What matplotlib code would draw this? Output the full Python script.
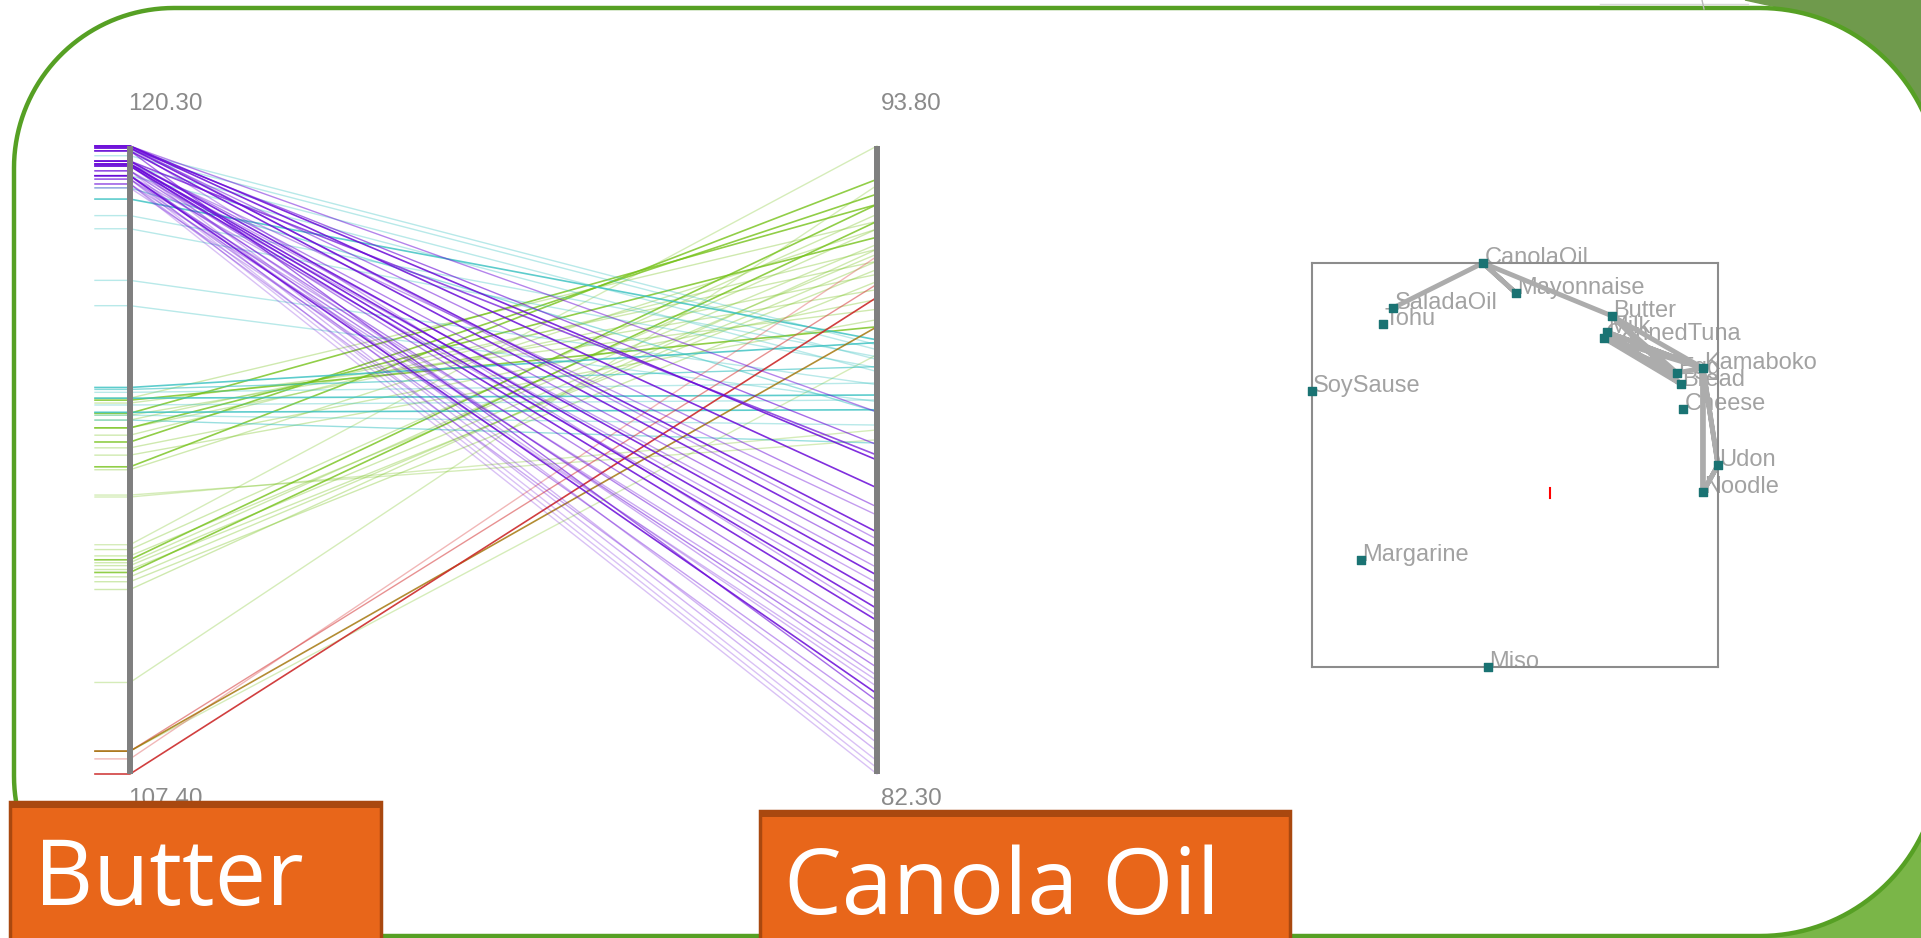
import matplotlib
matplotlib.use('Agg')
import matplotlib.pyplot as plt
from matplotlib.patches import Rectangle, Polygon
import numpy as np

# ---- data -------------------------------------------------------------
butter_range = (107.40, 120.30)
canola_range = (82.30, 93.80)

# purple lines (butter value, canola value, alpha)
purple_butter = [120.30, 120.30, 120.26, 120.26, 120.20, 119.99, 119.99, 119.93, 119.93, 119.89,
                 119.89, 119.79, 119.69, 119.69, 119.62, 119.52, 120.30, 120.26, 119.99, 119.93,
                 119.89, 119.79, 119.69, 119.62, 119.52, 119.44, 120.20, 119.99, 119.93, 119.79,
                 119.69, 119.62, 119.52, 120.30, 120.26, 119.89, 119.69]
purple_canola = [88.05, 87.54, 87.19, 86.73, 86.45, 86.27, 85.94, 85.63, 85.33, 85.11,
                 84.87, 84.56, 84.25, 83.77, 83.46, 83.04, 88.93, 88.33, 88.14, 87.04,
                 86.08, 85.80, 85.50, 84.70, 84.40, 84.01, 83.64, 83.27, 82.87, 82.72,
                 82.54, 82.41, 82.30, 86.60, 85.20, 84.10, 83.90]
purple_alpha = [0.85, 0.85, 0.5, 0.85, 0.85, 0.5, 0.85, 0.85, 0.85, 0.85,
                0.5, 0.5, 0.5, 0.85, 0.4, 0.35, 0.5, 0.6, 0.7, 0.4,
                0.4, 0.35, 0.35, 0.35, 0.35, 0.3, 0.6, 0.3, 0.3, 0.3,
                0.25, 0.25, 0.25, 0.4, 0.35, 0.35, 0.3]

cyan_butter = [119.44, 119.21, 118.87, 118.60, 117.54, 117.02, 120.20, 120.10, 119.89, 119.69,
               115.34, 115.30, 115.24, 115.12, 114.98, 114.83, 114.77, 114.67]
cyan_canola = [88.93, 90.25, 89.94, 89.74, 89.43, 89.12, 90.16, 90.07, 89.89, 89.67,
               90.20, 89.76, 89.46, 89.24, 89.15, 88.97, 88.69, 88.36]
cyan_alpha = [0.5, 0.8, 0.35, 0.35, 0.35, 0.35, 0.35, 0.35, 0.35, 0.35,
              0.8, 0.6, 0.35, 0.8, 0.35, 0.8, 0.35, 0.5]

green_butter = [115.12, 115.08, 115.02, 114.81, 114.77, 114.67, 114.51, 114.51, 114.36, 114.22,
                114.10, 113.95, 113.71, 113.65, 113.13, 113.09, 112.11, 112.01, 111.88, 111.80,
                111.74, 111.68, 111.60, 111.54, 111.45, 111.35, 111.19, 109.28, 107.87]
green_canola = [92.42, 90.49, 90.81, 92.73, 91.17, 91.69, 92.13, 91.45, 91.91, 92.92,
                90.99, 90.62, 93.19, 92.28, 88.42, 88.60, 93.80, 92.55, 92.00, 92.73,
                92.28, 91.82, 91.54, 92.42, 91.69, 91.32, 91.91, 93.08, 89.98]
green_alpha = [0.35, 0.8, 0.35, 0.8, 0.35, 0.35, 0.8, 0.35, 0.35, 0.8,
               0.35, 0.35, 0.8, 0.35, 0.3, 0.3, 0.3, 0.35, 0.35, 0.8,
               0.35, 0.35, 0.35, 0.8, 0.35, 0.35, 0.35, 0.3, 0.3]

red_butter = [107.71, 107.87, 107.40, 107.87]
red_canola = [91.78, 91.27, 91.03, 90.49]
red_colors = ['#e06060', '#d84848', '#cc2a2a', '#a07000']
red_alpha = [0.45, 0.6, 0.9, 0.8]

# 2-D map of foods (relative position inside the box)
foods = ['CanolaOil', 'Mayonnaise', 'SaladaOil', 'Tohu', 'Butter', 'Milk', 'CannedTuna',
         'Kamaboko', 'Egg', 'Bread', 'Cheese', 'Udon', 'Noodle', 'SoySause', 'Margarine', 'Miso']
food_x = [0.421, 0.502, 0.200, 0.175, 0.739, 0.727, 0.719,
          0.963, 0.899, 0.909, 0.914, 1.000, 0.963, 0.000, 0.121, 0.433]
food_y = [1.000, 0.926, 0.889, 0.849, 0.869, 0.829, 0.814,
          0.740, 0.728, 0.700, 0.639, 0.500, 0.433, 0.683, 0.265, 0.000]
trail = ['SaladaOil', 'CanolaOil', 'Mayonnaise', 'CanolaOil', 'Butter', 'Kamaboko', 'Milk',
         'Bread', 'CannedTuna', 'Egg', 'Butter', 'Bread', 'Milk', 'Kamaboko', 'CannedTuna',
         'Egg', 'Kamaboko', 'Noodle', 'Udon', 'Kamaboko', 'Udon', 'Noodle', 'Kamaboko']
marker_pos = (0.586, 0.431)

# ---- figure -----------------------------------------------------------
W, H = 1921, 938
fig = plt.figure(figsize=(W / 100, H / 100), dpi=100)


def pixel_axes(z):
    a = fig.add_axes([0, 0, 1, 1], zorder=z)
    a.set_xlim(0, W)
    a.set_ylim(H, 0)
    a.axis('off')
    a.patch.set_alpha(0)
    return a


def rounded_frame(x0, y0, x1, y1, rl, rr):
    # corners as true circular arcs (y grows downwards)
    pts = []
    for cx, cy, r, a0 in [(x0 + rl, y0 + rl, rl, np.pi), (x1 - rr, y0 + rr, rr, 1.5 * np.pi),
                          (x1 - rr, y1 - rr, rr, 0), (x0 + rl, y1 - rl, rl, 0.5 * np.pi)]:
        t = np.linspace(a0, a0 + np.pi / 2, 40)
        pts += list(zip(cx + r * np.cos(t), cy + r * np.sin(t)))
    return pts


bg = pixel_axes(0)
bg.add_patch(Polygon([(1745, 0), (W, 0), (W, 320), (1800, 12)], color='#6f9a4c'))
bg.add_patch(Polygon([(1600, H), (W, H), (W, 600)], color='#7ab648'))
bg.plot([1600, 1748], [4, 4], color='#d8d8d8', lw=1)
bg.plot([1702, 1704], [0, 9], color='#b8b8b8', lw=1)
bg.add_patch(Polygon(rounded_frame(14, 8, 1940, 936, 160, 180), closed=True,
                     fc='white', ec='#56a024', lw=3.2))

# ---- parallel coordinates --------------------------------------------
left_px, right_px, top_px, bot_px, stub_px = 130, 877, 146, 774, 95
span = right_px - left_px
x0 = (stub_px - left_px) / span
pc = fig.add_axes([stub_px / W, (H - bot_px) / H, (900 - stub_px) / W, (bot_px - top_px) / H], zorder=1)
pc.set_xlim(x0, (900 - left_px) / span)
pc.set_ylim(0, 1)
pc.axis('off')


def norm(v, rng):
    return (np.asarray(v) - rng[0]) / (rng[1] - rng[0])


def draw_group(bv, cv, alphas, colors):
    yb = norm(bv, butter_range)
    yc = norm(cv, canola_range)
    order = np.argsort(alphas)
    for i in order:
        c = colors[i] if isinstance(colors, list) else colors
        pc.plot([x0, 0, 1], [yb[i], yb[i], yc[i]], color=c, alpha=alphas[i],
                lw=1.2 if alphas[i] > 0.6 else 1.0, clip_on=False)


draw_group(green_butter, green_canola, green_alpha, '#76c21a')
draw_group(cyan_butter, cyan_canola, cyan_alpha, '#35c0c0')
draw_group(red_butter, red_canola, red_alpha, red_colors)
draw_group(purple_butter, purple_canola, purple_alpha, '#6a0ad8')

for xa in (0, 1):
    pc.plot([xa, xa], [0, 1], color='#7f7f7f', lw=4.3, solid_capstyle='butt', zorder=5, clip_on=False)

lab = dict(fontsize=17.5, color='#8a8a8a', family='Liberation Sans', ha='left', va='center')
dx = -2 / span
pc.text(0 + dx, 1 + (top_px - 104) / (bot_px - top_px), f'{butter_range[1]:.2f}', **lab)
pc.text(0 + dx, -(799 - bot_px) / (bot_px - top_px), f'{butter_range[0]:.2f}', **lab)
pc.text(1 + 4 / span, 1 + (top_px - 104) / (bot_px - top_px), f'{canola_range[1]:.2f}', **lab)
pc.text(1 + 4 / span, -(799 - bot_px) / (bot_px - top_px), f'{canola_range[0]:.2f}', **lab)

# ---- food map ---------------------------------------------------------
sc = fig.add_axes([1312 / W, (H - 667) / H, 406 / W, 404 / H], zorder=1)
sc.set_xlim(0, 1)
sc.set_ylim(0, 1)
sc.set_xticks([])
sc.set_yticks([])
for s in sc.spines.values():
    s.set_color('#8c8c8c')
    s.set_linewidth(1.5)

pos = {n: (x, y) for n, x, y in zip(foods, food_x, food_y)}
sc.plot([pos[n][0] for n in trail], [pos[n][1] for n in trail], color='#acacac', lw=3.5,
        solid_joinstyle='round', zorder=2, clip_on=False)
for n, x, y in zip(foods, food_x, food_y):
    sc.annotate(n, (x, y), xytext=(1, -1), textcoords='offset points', va='baseline',
                fontsize=17, color='#a2a2a2', family='Liberation Sans', zorder=1, annotation_clip=False)
sc.scatter(food_x, food_y, marker='s', s=28, color='#1a7373', zorder=3, clip_on=False)
sc.plot([marker_pos[0]] * 2, [marker_pos[1] - 0.012, marker_pos[1] + 0.012], color='red', lw=1.5)

# ---- title boxes ------------------------------------------------------
top = pixel_axes(5)
for (x, y, w, tx, ty, label) in [(10, 802, 371, 34, 905, 'Butter'),
                                  (760, 811, 530, 784, 914, 'Canola Oil')]:
    top.add_patch(Rectangle((x, y), w, H - y + 5, fc='#e8661a', ec='#a9480f', lw=2.5))
    top.add_patch(Rectangle((x, y), w, 6, fc='#a9480f', ec='none'))
    top.text(tx, ty, label, fontsize=66, color='white', family='Open Sans', va='baseline')

fig.savefig('out.png', dpi=100)
